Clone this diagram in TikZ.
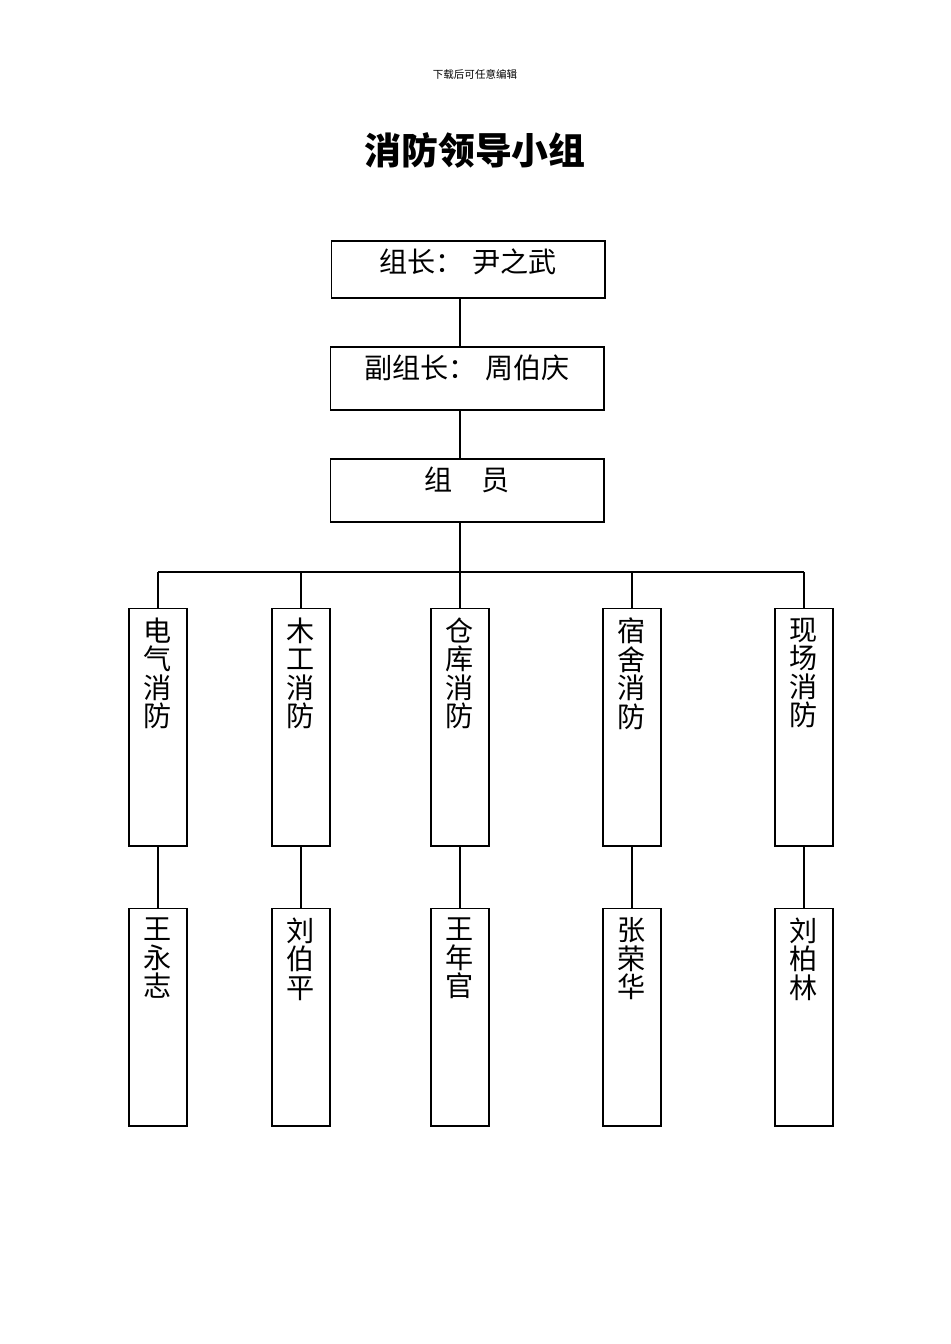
\documentclass[tikz,border=0pt]{standalone}
\usepackage{fontspec}
\newfontfamily\cjk{Noto Sans CJK SC}
\usetikzlibrary{positioning, calc}

\begin{document}
\begin{tikzpicture}[
    x=0.02cm, y=-0.02cm,
    box/.style={rectangle, draw=black, line width=0.6pt, inner sep=0pt},
    headbox/.style={box, minimum width=5.48cm, minimum height=1.2cm},
    colbox/.style={box, minimum width=1.16cm, minimum height=4.76cm},
    namebox/.style={box, minimum width=1.16cm, minimum height=4.36cm},
    boxtext/.style={font=\cjk\fontsize{16}{18}\selectfont, inner sep=0pt},
    vtext/.style={font=\cjk\fontsize{16}{16.2}\selectfont, align=center, inner sep=0pt, anchor=north},
    link/.style={line width=0.6pt}
]
\useasboundingbox (0,0) rectangle (950,1344);

% Title
\node[font=\cjk\fontsize{6}{7}\selectfont] (note) at (475,74) {下载后可任意编辑};
\node[font=\cjk\bfseries\fontsize{21}{24}\selectfont] (title) at (475,150) {消防领导小组};

% Head boxes
\node[box, minimum width=5.48cm, minimum height=1.14cm] (leader) at (468,269.5) {};
\node[boxtext] at (468,262) {组长：\hspace{0.3em}尹之武};
\node[headbox, minimum height=1.26cm] (deputy) at (467,378.5) {};
\node[boxtext] at (467,368) {副组长：\hspace{0.3em}周伯庆};
\node[headbox, minimum height=1.26cm] (member) at (467,490.5) {};
\node[boxtext] at (467,480) {组\quad 员};

\coordinate (mid) at (460,0);
\coordinate (bus) at (460,572);
\draw[link] (leader.south -| mid) -- (deputy.north -| mid);
\draw[link] (deputy.south -| mid) -- (member.north -| mid);
\draw[link] (member.south -| mid) -- (bus);

% Columns
\foreach \i/\x/\top/\bot in {1/158/电\\气\\消\\防/王\\永\\志,
                           2/301/木\\工\\消\\防/刘\\伯\\平,
                           3/460/仓\\库\\消\\防/王\\年\\官,
                           4/632/宿\\舍\\消\\防/张\\荣\\华,
                           5/804/现\\场\\消\\防/刘\\柏\\林} {
  \node[colbox] (dept\i) at (\x,727) {};
  \node[vtext] at ($(dept\i.north)+(0,10)$) {\top};
  \node[namebox] (name\i) at (\x,1017) {};
  \node[vtext] at ($(name\i.north)+(0,10)$) {\bot};
  \draw[link] (dept\i.north |- bus) -- (dept\i.north);
  \draw[link] (dept\i.south) -- (name\i.north);
}
\draw[link] (dept1.north |- bus) -- (dept5.north |- bus);
\end{tikzpicture}
\end{document}
